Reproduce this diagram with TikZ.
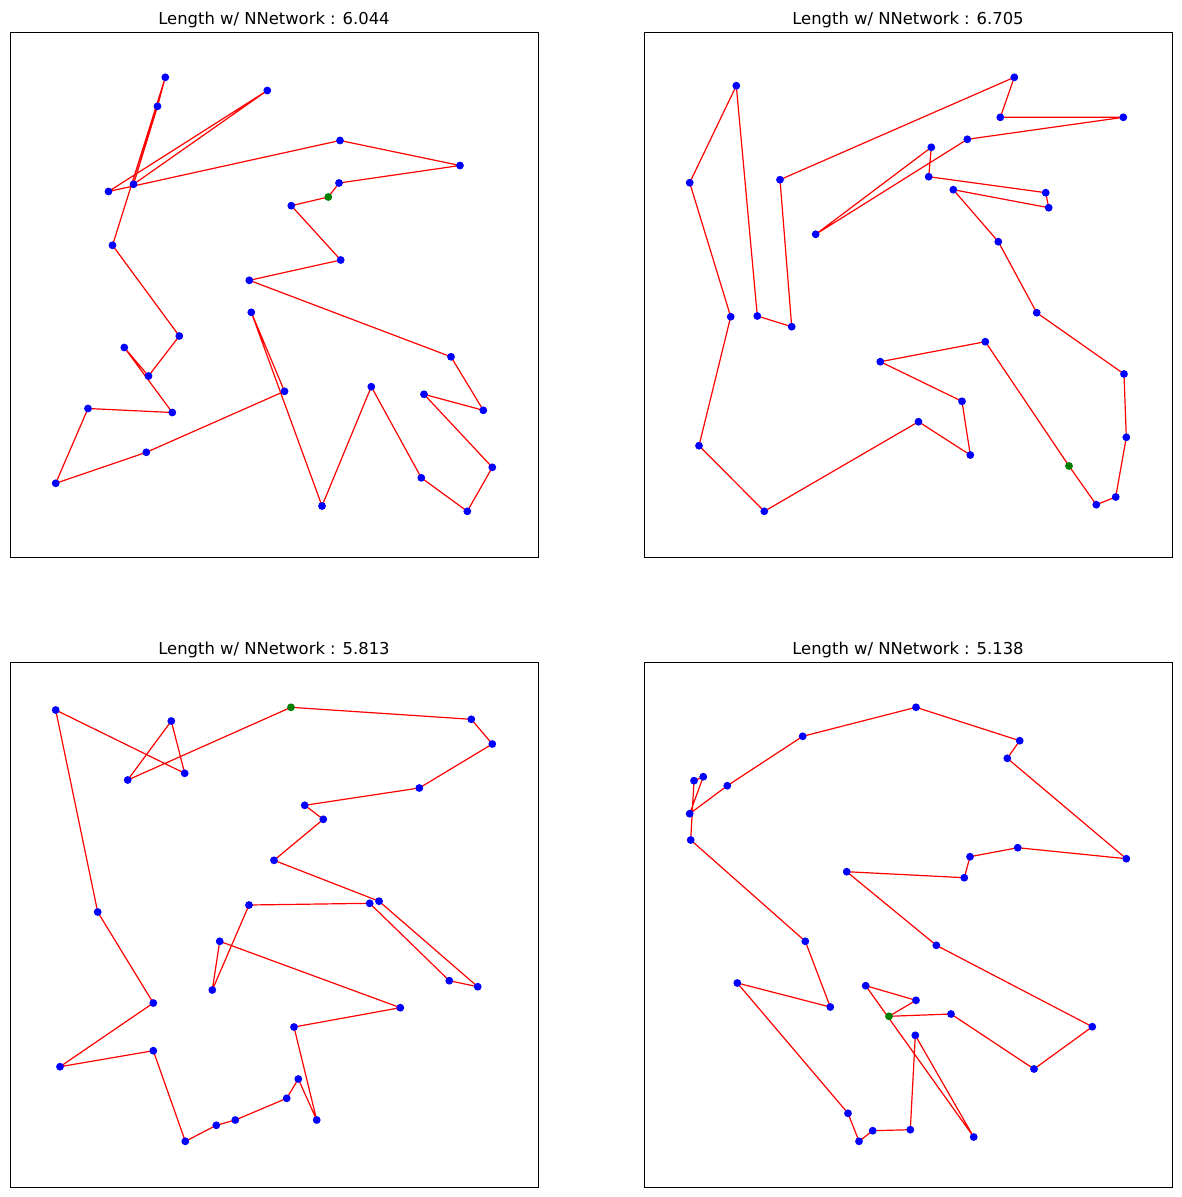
\documentclass[tikz,border=0pt]{standalone}
\usepackage{fontspec}
\setmainfont{DejaVu Sans}
\definecolor{tourred}{RGB}{255,0,0}
\definecolor{cityblue}{RGB}{0,0,255}
\definecolor{startgreen}{RGB}{0,128,0}
\tikzset{
  frame/.style={draw=black, line width=0.9pt},
  tour/.style={draw=tourred, line width=1.2pt, line join=round},
  city/.style={fill=cityblue},
  start/.style={fill=startgreen},
  plottitle/.style={anchor=base, font=\fontsize{16.4}{20}\selectfont, inner sep=0pt}
}
\begin{document}
\begin{tikzpicture}[x=1pt, y=-1pt]
    \useasboundingbox (0,0) rectangle (1182,1197);

    % Axes frames
    \draw[frame] (10,32) rectangle (538,557);
    \draw[frame] (644,32) rectangle (1172,557);
    \draw[frame] (10,662) rectangle (538,1187);
    \draw[frame] (644,662) rectangle (1172,1187);

    % Titles
    \node[plottitle] (titleA) at (274,24) {Length w/ NNetwork : 6.044};
    \node[plottitle] (titleB) at (908,24) {Length w/ NNetwork : 6.705};
    \node[plottitle] (titleC) at (274,654) {Length w/ NNetwork : 5.813};
    \node[plottitle] (titleD) at (908,654) {Length w/ NNetwork : 5.138};

    % Cities, top left (tour order, start first)
    \coordinate (a1) at (328.3,197);   \coordinate (a2) at (339,183);     \coordinate (a3) at (460,165.5);
    \coordinate (a4) at (340,140.5);   \coordinate (a5) at (108.5,191.5); \coordinate (a6) at (267.3,90.5);
    \coordinate (a7) at (133.5,184.3); \coordinate (a8) at (157.5,106.3); \coordinate (a9) at (165.3,77.3);
    \coordinate (a10) at (112.5,245.3); \coordinate (a11) at (179.3,336); \coordinate (a12) at (148.5,376);
    \coordinate (a13) at (124.3,347.5); \coordinate (a14) at (172.3,412.5); \coordinate (a15) at (88,408.5);
    \coordinate (a16) at (55.7,483.3); \coordinate (a17) at (146.3,452.3); \coordinate (a18) at (284.5,391.3);
    \coordinate (a19) at (251.3,312.3); \coordinate (a20) at (322,506);  \coordinate (a21) at (371.3,386.7);
    \coordinate (a22) at (421.3,477.8); \coordinate (a23) at (467.3,511.3); \coordinate (a24) at (492.3,467.3);
    \coordinate (a25) at (424,394.3);  \coordinate (a26) at (483.3,410.3); \coordinate (a27) at (451,356.8);
    \coordinate (a28) at (249.3,280.3); \coordinate (a29) at (340.7,260); \coordinate (a30) at (291.3,205.7);

    % Cities, top right
    \coordinate (b1) at (1069,466);    \coordinate (b2) at (1096.3,504.7); \coordinate (b3) at (1115.7,497);
    \coordinate (b4) at (1126.3,437.3); \coordinate (b5) at (1124,374);   \coordinate (b6) at (1036.7,312.7);
    \coordinate (b7) at (998.3,241.7); \coordinate (b8) at (953.3,189.7); \coordinate (b9) at (1048.7,207.7);
    \coordinate (b10) at (1045.7,192.7); \coordinate (b11) at (928.7,176.7); \coordinate (b12) at (931.3,147.3);
    \coordinate (b13) at (815.7,234.3); \coordinate (b14) at (967.3,139.3); \coordinate (b15) at (1123.3,117.3);
    \coordinate (b16) at (1000.3,117.3); \coordinate (b17) at (1014.3,77.3); \coordinate (b18) at (780,179.7);
    \coordinate (b19) at (791.7,326.7); \coordinate (b20) at (757.3,316); \coordinate (b21) at (736.3,85.7);
    \coordinate (b22) at (689.7,182.7); \coordinate (b23) at (730.7,316.7); \coordinate (b24) at (699,445.7);
    \coordinate (b25) at (764.3,511.3); \coordinate (b26) at (918.5,421.7); \coordinate (b27) at (970.3,455);
    \coordinate (b28) at (962,401.3);  \coordinate (b29) at (880.3,361.7); \coordinate (b30) at (985.3,341.7);

    % Cities, bottom left
    \coordinate (c1) at (291,707.3);   \coordinate (c2) at (471.3,719.3); \coordinate (c3) at (492.3,744);
    \coordinate (c4) at (419.3,788);   \coordinate (c5) at (304.7,805.3); \coordinate (c6) at (323.3,819.3);
    \coordinate (c7) at (274,860.3);   \coordinate (c8) at (379,901.2);   \coordinate (c9) at (477.7,986.7);
    \coordinate (c10) at (449.3,980.7); \coordinate (c11) at (369.7,903.3); \coordinate (c12) at (249,905);
    \coordinate (c13) at (212.3,990);  \coordinate (c14) at (219.7,941.3); \coordinate (c15) at (400.3,1007.7);
    \coordinate (c16) at (294,1027);   \coordinate (c17) at (316.7,1120); \coordinate (c18) at (298.3,1079);
    \coordinate (c19) at (286.7,1098.3); \coordinate (c20) at (235.3,1120); \coordinate (c21) at (216.3,1125.3);
    \coordinate (c22) at (185.3,1141.3); \coordinate (c23) at (153.3,1050.7); \coordinate (c24) at (60,1066.7);
    \coordinate (c25) at (153.3,1003); \coordinate (c26) at (97.7,912);   \coordinate (c27) at (55.7,710);
    \coordinate (c28) at (184.7,773.3); \coordinate (c29) at (171.3,721); \coordinate (c30) at (127.7,780);

    % Cities, bottom right
    \coordinate (d1) at (889,1016.3);  \coordinate (d2) at (916,1000.3);  \coordinate (d3) at (865.7,985.7);
    \coordinate (d4) at (973.7,1137);  \coordinate (d5) at (915.3,1035.3); \coordinate (d6) at (910.3,1129.7);
    \coordinate (d7) at (872.7,1130.7); \coordinate (d8) at (859,1141.3); \coordinate (d9) at (848,1113.3);
    \coordinate (d10) at (737.3,983);  \coordinate (d11) at (830.3,1007); \coordinate (d12) at (805.3,941.3);
    \coordinate (d13) at (690.7,840);  \coordinate (d14) at (694,780.7);  \coordinate (d15) at (703.3,776.7);
    \coordinate (d16) at (689.7,813.7); \coordinate (d17) at (727.3,785.7); \coordinate (d18) at (802.7,736.3);
    \coordinate (d19) at (916,707.3);  \coordinate (d20) at (1019.7,740.7); \coordinate (d21) at (1007.3,758.3);
    \coordinate (d22) at (1126.3,858.7); \coordinate (d23) at (1017.7,847.7); \coordinate (d24) at (970,856.7);
    \coordinate (d25) at (964.3,877.7); \coordinate (d26) at (846.7,871.7); \coordinate (d27) at (936.3,945.3);
    \coordinate (d28) at (1092.3,1026.7); \coordinate (d29) at (1034,1069); \coordinate (d30) at (951,1014);

    % Tours
    \foreach \p in {a,b,c,d}
        \draw[tour] (\p1) \foreach \i in {2,...,30} { -- (\p\i) } -- cycle;

    % City markers
    \foreach \p in {a,b,c,d} {
        \foreach \i in {2,...,30}
            \fill[city] (\p\i) circle (3.9pt);
        \fill[start] (\p1) circle (3.9pt);
    }
\end{tikzpicture}
\end{document}
